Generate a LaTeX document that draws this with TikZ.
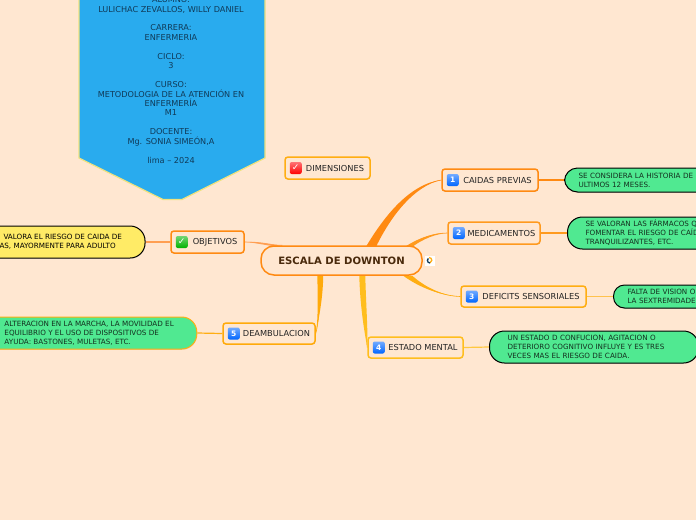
\documentclass[tikz,border=0pt]{standalone}
\usepackage{fontspec}
\setmainfont{DejaVu Sans}
\usetikzlibrary{calc,shadows}
\pgfdeclarelayer{bg}
\pgfsetlayers{bg,main}
\definecolor{paper}{HTML}{FFE7D1}
\definecolor{oA}{HTML}{FF8A12}
\definecolor{oB}{HTML}{FF9A1E}
\definecolor{oC}{HTML}{FFAE12}
\definecolor{oD}{HTML}{FFBE1E}
\definecolor{oE}{HTML}{FFAA0A}
\definecolor{oF}{HTML}{FF9F52}
\definecolor{pillgreen}{HTML}{50E991}
\definecolor{pillyellow}{HTML}{FFEB66}
\definecolor{bannerblue}{HTML}{29ABEE}
\definecolor{bannerline}{HTML}{EFE27E}
\definecolor{inkdark}{HTML}{222222}
\definecolor{inkroot}{HTML}{4A2A0C}
\definecolor{inkpill}{HTML}{14301F}
\definecolor{inkbanner}{HTML}{103A58}
\tikzset{
  x=1pt,y=-1pt,
  topic/.style={draw,line width=1.5pt,rounded corners=3pt,fill=paper,text=inkdark,
    font=\fontsize{8.25}{9}\selectfont,inner sep=0pt,
    drop shadow={shadow xshift=.4pt,shadow yshift=-.8pt,opacity=.18}},
  pill/.style={draw,line width=1pt,rounded corners=13pt,fill=pillgreen,text=inkpill,anchor=west,
    font=\fontsize{7.2}{9.1}\selectfont,align=left,inner ysep=0pt,
    drop shadow={shadow xshift=.4pt,shadow yshift=-.8pt,opacity=.18}},
  numicon/.style={rounded corners=2pt,minimum size=12pt,inner sep=0pt,text=white,
    font=\fontsize{7.5}{8}\selectfont\bfseries,top color=#1!55!white,bottom color=#1},
  branch/.style={draw=#1,line width=.6pt},
  taper/.style={fill=#1,draw=none},
  twig/.style={draw=#1,line width=1.2pt},
  bannertext/.style={text=inkbanner,font=\fontsize{8.15}{9.45}\selectfont,align=center}
}
\begin{document}
\begin{tikzpicture}
\clip (0,0) rectangle (696,520);
\begin{pgfonlayer}{bg}
\fill[paper] (0,0) rectangle (696,520);
\end{pgfonlayer}

% banner
\draw[line width=1.2pt,draw=bannerline,fill=bannerblue]
  (79,-6) -- (79,158) -- (163,199.5) -- (182,199.5) -- (265,158) -- (265,-6) -- cycle;
\node[bannertext,anchor=north] (bannertxt) at (171,-7) {ALUMNO:\\LULICHAC ZEVALLOS, WILLY DANIEL\\[9.45pt]CARRERA:\\ENFERMERIA\\[9.45pt]CICLO:\\3\\[9.45pt]CURSO:\\METODOLOGIA DE LA ATENCIÓN EN\\ENFERMERÍA\\M1\\[9.45pt]DOCENTE:\\Mg. SONIA SIMEÓN,A\\[9.45pt]lima – 2024};

% root
\node[draw=oA,line width=1.5pt,rounded corners=13pt,fill=paper,text=inkroot,minimum width=161pt,minimum height=29pt,
  inner sep=0pt,font=\fontsize{10.1}{11}\selectfont\bfseries] (root) at (341.5,260.5) {ESCALA DE DOWNTON};
\coordinate (rA) at ($(root.north west)+(111,0)$);
\coordinate (rB) at ($(root.north west)+(147,2)$);
\coordinate (rC) at ($(root.south west)+(150,0)$);
\coordinate (rD) at ($(root.south west)+(102,0)$);
\coordinate (rE) at ($(root.south west)+(60,0)$);
\coordinate (rF) at ($(root.north west)+(22,0)$);

% topics
\node[topic,draw=oC,minimum width=85pt,minimum height=22pt] (dim) at (327.5,168) {\hspace{15pt}DIMENSIONES};
\node[topic,draw=oA,minimum width=96pt,minimum height=22pt] (caidas) at (490,180) {\hspace{15pt}CAIDAS PREVIAS};
\node[topic,draw=oB,minimum width=92pt,minimum height=22pt] (med) at (494,233) {\hspace{15pt}MEDICAMENTOS};
\node[topic,draw=oC,minimum width=125pt,minimum height=21pt] (def) at (523.5,296.5) {\hspace{15pt}DEFICITS SENSORIALES};
\node[topic,draw=oD,minimum width=95pt,minimum height=21pt] (est) at (415.5,347.5) {\hspace{15pt}ESTADO MENTAL};
\node[topic,draw=oE,minimum width=92pt,minimum height=21pt] (dea) at (269,333.5) {\hspace{15pt}DEAMBULACION};
\node[topic,draw=oA,minimum width=73pt,minimum height=22pt] (obj) at (207.5,242) {\hspace{15pt}OBJETIVOS};

% icons
\node[numicon=red] (iDim) at ($(dim.west)+(11.5,0)$) {\fontsize{9}{9}\selectfont ✓};
\node[numicon=blue!60!cyan] (iCai) at ($(caidas.west)+(11.5,0)$) {1};
\node[numicon=blue!60!cyan] (iMed) at ($(med.west)+(11.5,0)$) {2};
\node[numicon=blue!60!cyan] (iDef) at ($(def.west)+(11.5,0)$) {3};
\node[numicon=blue!60!cyan] (iEst) at ($(est.west)+(11.5,0)$) {4};
\node[numicon=blue!60!cyan] (iDea) at ($(dea.west)+(11.5,0)$) {5};
\node[numicon=green!70!black] (iObj) at ($(obj.west)+(11.5,0)$) {\fontsize{9}{9}\selectfont ✓};

% pills
\node[pill,draw=black,minimum height=24pt,inner xsep=14pt,text width=160pt] (pCai) at (564,180)
  {SE CONSIDERA LA HISTORIA DE\\ULTIMOS 12 MESES.};
\node[pill,draw=black,minimum height=32pt,inner xsep=18pt,text width=160pt,rounded corners=15pt] (pMed) at (567,233)
  {SE VALORAN LAS FÁRMACOS Q\\FOMENTAR EL RIESGO DE CAÍD\\TRANQUILIZANTES, ETC.};
\node[pill,draw=black,minimum height=23pt,inner xsep=14pt,text width=160pt,rounded corners=11pt] (pDef) at (613,296.5)
  {FALTA DE VISION O\\LA SEXTREMIDADES};
\node[pill,draw=black,minimum height=32pt,inner xsep=18pt,text width=173pt,rounded corners=15pt] (pEst) at (489,347)
  {UN ESTADO D CONFUCION, AGITACION O\\DETERIORO COGNITIVO INFLUYE Y ES TRES\\VECES MAS EL RIESGO DE CAIDA.};
\node[pill,draw=oC,minimum height=32pt,inner xsep=23pt,rounded corners=15pt] (pDea) at (-19,333)
  {ALTERACION EN LA MARCHA, LA MOVILIDAD EL\\EQUILIBRIO Y EL USO DE DISPOSITIVOS DE\\AYUDA: BASTONES, MULETAS, ETC.};
\node[pill,draw=black,fill=pillyellow,text=black,minimum height=32pt,inner xsep=23pt,rounded corners=15pt] (pObj) at (-24,242)
  {\hspace*{4pt}VALORA EL RIESGO DE CAIDA DE\\AS, MAYORMENTE PARA ADULTO};

% small icon beside root
\node[fill=white,minimum size=10pt,inner sep=0pt] (rootIcon) at (429.5,260.5) {};
\draw[oC,line width=1.3pt] ($(rootIcon)+(-.5,-3)$) arc[start angle=90,end angle=-70,radius=2.8pt];
\draw[inkbanner,line width=1.3pt] ($(rootIcon)+(.5,2.5)$) arc[start angle=270,end angle=130,radius=2.6pt];

\begin{pgfonlayer}{bg}
  % tapered main branches
  \fill[taper=oA] ($(rA)+(-5,1)$) .. controls (385,215) and (410,184) .. (caidas.west)
    .. controls (414,186) and (391,216) .. ($(rA)+(5,1)$) -- cycle;
  \fill[taper=oB] ($(rB)+(-3,0)$) .. controls (420,237) and (434,233) .. (med.west)
    .. controls (436,234) and (424,238) .. ($(rB)+(3,1)$) -- cycle;
  \fill[taper=oC] ($(rC)+(-7,0)$) .. controls (420,288) and (442,296) .. (def.west)
    .. controls (444,296) and (426,288) .. ($(rC)+(2,0)$) -- cycle;
  \fill[taper=oD] ($(rD)+(-3,-1)$) .. controls (360,305) and (364,330) .. (est.west)
    .. controls (368,330) and (366,305) .. ($(rD)+(3,-1)$) -- cycle;
  \fill[taper=oE] ($(rE)+(-3,-1)$) .. controls (318,300) and (318,322) .. (dea.east)
    .. controls (318,322) and (323,300) .. ($(rE)+(3,-1)$) -- cycle;
  \fill[taper=oF] ($(rF)+(2,1)$) .. controls (270,244) and (258,241) .. (obj.east)
    .. controls (258,243) and (268,246) .. ($(rF)+(-6,1)$) -- cycle;
  % centre lines of the main branches
  \draw[branch=oA] (rA) .. controls (388,215) and (412,185) .. (caidas.west);
  \draw[branch=oB] (rB) .. controls (422,237) and (435,233) .. (med.west);
  \draw[branch=oC] (rC) .. controls (422,288) and (443,296) .. (def.west);
  \draw[branch=oD] (rD) .. controls (363,305) and (366,330) .. (est.west);
  \draw[branch=oE] (rE) .. controls (320,300) and (319,322) .. (dea.east);
  \draw[branch=oF] (rF) .. controls (268,245) and (258,242) .. (obj.east);
  % twigs to the detail pills
  \draw[twig=oA] (caidas.east) -- (pCai.west);
  \draw[twig=oB] (med.east) -- (pMed.west);
  \draw[twig=oC!75!white] (def.east) -- (pDef.west);
  \draw[twig=oD!85!white] (est.east) -- (pEst.west);
  \draw[twig=oC] (dea.west) -- (pDea.east);
  \draw[twig=oF] (obj.west) -- (pObj.east);
\end{pgfonlayer}
\end{tikzpicture}
\end{document}
